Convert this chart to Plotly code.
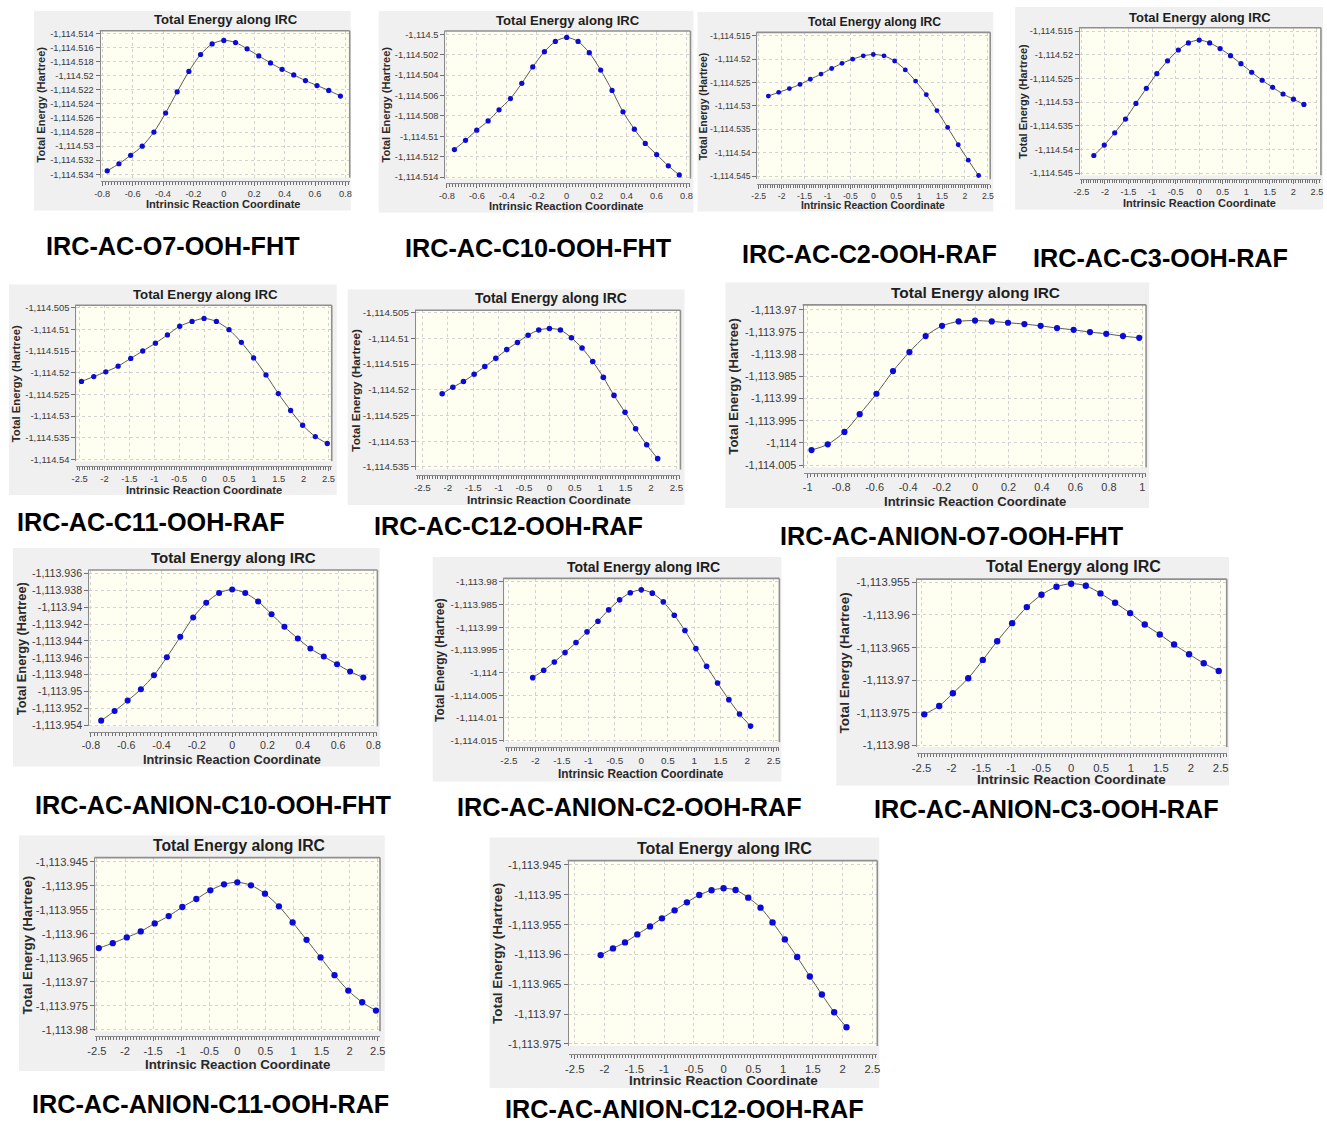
import plotly.graph_objects as go

W, H = 1327, 1123
# the photographed page ends up shifted and scaled slightly; compensate for it
VIEW_OFFSET_X = 7.0
VIEW_OFFSET_Y = 4.0
VIEW_SCALE = 0.991
FONT = "Liberation Sans, Arial, Helvetica, sans-serif"

# ---------------- captions / tick labels ----------------
CAPTIONS = [
    "IRC-AC-O7-OOH-FHT", "IRC-AC-C10-OOH-FHT", "IRC-AC-C2-OOH-RAF", "IRC-AC-C3-OOH-RAF",
    "IRC-AC-C11-OOH-RAF", "IRC-AC-C12-OOH-RAF", "IRC-AC-ANION-O7-OOH-FHT",
    "IRC-AC-ANION-C10-OOH-FHT", "IRC-AC-ANION-C2-OOH-RAF", "IRC-AC-ANION-C3-OOH-RAF",
    "IRC-AC-ANION-C11-OOH-RAF", "IRC-AC-ANION-C12-OOH-RAF",
]
PANEL_TITLE = "Total Energy along IRC"
X_TITLE = "Intrinsic Reaction Coordinate"
Y_TITLE = "Total Energy (Hartree)"

X_TICKS_SMALL = [-0.8, -0.6, -0.4, -0.2, 0, 0.2, 0.4, 0.6, 0.8]
X_TICKS_ONE = [-1, -0.8, -0.6, -0.4, -0.2, 0, 0.2, 0.4, 0.6, 0.8, 1]
X_TICKS_WIDE = [-2.5, -2, -1.5, -1, -0.5, 0, 0.5, 1, 1.5, 2, 2.5]

Y_TICKS_1 = [-1114.514, -1114.516, -1114.518, -1114.52, -1114.522, -1114.524, -1114.526, -1114.528, -1114.53, -1114.532, -1114.534]
Y_TICKS_2 = [-1114.5, -1114.502, -1114.504, -1114.506, -1114.508, -1114.51, -1114.512, -1114.514]
Y_TICKS_3 = [-1114.515, -1114.52, -1114.525, -1114.53, -1114.535, -1114.54, -1114.545]
Y_TICKS_4 = [-1114.515, -1114.52, -1114.525, -1114.53, -1114.535, -1114.54, -1114.545]
Y_TICKS_5 = [-1114.505, -1114.51, -1114.515, -1114.52, -1114.525, -1114.53, -1114.535, -1114.54]
Y_TICKS_6 = [-1114.505, -1114.51, -1114.515, -1114.52, -1114.525, -1114.53, -1114.535]
Y_TICKS_7 = [-1113.97, -1113.975, -1113.98, -1113.985, -1113.99, -1113.995, -1114.0, -1114.005]
Y_TICKS_8 = [-1113.936, -1113.938, -1113.94, -1113.942, -1113.944, -1113.946, -1113.948, -1113.95, -1113.952, -1113.954]
Y_TICKS_9 = [-1113.98, -1113.985, -1113.99, -1113.995, -1114.0, -1114.005, -1114.01, -1114.015]
Y_TICKS_10 = [-1113.955, -1113.96, -1113.965, -1113.97, -1113.975, -1113.98]
Y_TICKS_11 = [-1113.945, -1113.95, -1113.955, -1113.96, -1113.965, -1113.97, -1113.975, -1113.98]
Y_TICKS_12 = [-1113.945, -1113.95, -1113.955, -1113.96, -1113.965, -1113.97, -1113.975]

# ---------------- data (IRC coordinate, total energy in Hartree) ----------------
IRC_1 = [-0.767, -0.690, -0.613, -0.537, -0.460, -0.383, -0.307, -0.230, -0.153, -0.077, 0, 0.077, 0.153, 0.230, 0.307, 0.383, 0.460, 0.537, 0.613, 0.690, 0.767]
E_1 = [-1114.5335, -1114.5325, -1114.5313, -1114.5300, -1114.5280, -1114.5253, -1114.5223, -1114.5194, -1114.5170, -1114.5155, -1114.5150, -1114.5153, -1114.5162, -1114.5172, -1114.5182, -1114.5191, -1114.5199, -1114.5207, -1114.5214, -1114.5221, -1114.5229]

IRC_2 = [-0.750, -0.676, -0.601, -0.525, -0.452, -0.376, -0.300, -0.227, -0.149, -0.076, 0, 0.076, 0.151, 0.227, 0.303, 0.376, 0.452, 0.525, 0.601, 0.679, 0.752]
E_2 = [-1114.5113, -1114.5104, -1114.5094, -1114.5085, -1114.5074, -1114.5063, -1114.5048, -1114.5032, -1114.5017, -1114.5007, -1114.5003, -1114.5007, -1114.5018, -1114.5035, -1114.5055, -1114.5076, -1114.5093, -1114.5107, -1114.5118, -1114.5129, -1114.5138]

IRC_3 = [-2.289, -2.064, -1.831, -1.599, -1.374, -1.141, -0.908, -0.683, -0.451, -0.218, 0, 0.233, 0.465, 0.698, 0.923, 1.156, 1.388, 1.621, 1.853, 2.071, 2.297]
E_3 = [-1114.5279, -1114.5271, -1114.5263, -1114.5254, -1114.5243, -1114.5232, -1114.5220, -1114.5209, -1114.5200, -1114.5193, -1114.5190, -1114.5193, -1114.5204, -1114.5223, -1114.5247, -1114.5276, -1114.5310, -1114.5346, -1114.5383, -1114.5416, -1114.5449]

IRC_4 = [-2.237, -2.015, -1.794, -1.565, -1.343, -1.122, -0.900, -0.672, -0.443, -0.229, 0, 0.222, 0.443, 0.665, 0.886, 1.115, 1.337, 1.558, 1.780, 2.001, 2.223]
E_4 = [-1114.5413, -1114.5391, -1114.5365, -1114.5336, -1114.5303, -1114.5271, -1114.5240, -1114.5213, -1114.5190, -1114.5175, -1114.5169, -1114.5175, -1114.5187, -1114.5202, -1114.5219, -1114.5237, -1114.5254, -1114.5269, -1114.5283, -1114.5294, -1114.5305]

IRC_5 = [-2.463, -2.216, -1.975, -1.727, -1.473, -1.232, -0.977, -0.736, -0.489, -0.241, 0, 0.248, 0.502, 0.750, 0.997, 1.245, 1.493, 1.740, 1.981, 2.236, 2.477]
E_5 = [-1114.5220, -1114.5209, -1114.5198, -1114.5185, -1114.5167, -1114.5150, -1114.5132, -1114.5113, -1114.5093, -1114.5082, -1114.5075, -1114.5082, -1114.5101, -1114.5130, -1114.5166, -1114.5205, -1114.5248, -1114.5287, -1114.5321, -1114.5347, -1114.5363]

IRC_6 = [-2.110, -1.900, -1.691, -1.481, -1.271, -1.055, -0.839, -0.629, -0.419, -0.210, 0, 0.216, 0.433, 0.642, 0.852, 1.062, 1.271, 1.488, 1.697, 1.914, 2.130]
E_6 = [-1114.5208, -1114.5195, -1114.5184, -1114.5170, -1114.5155, -1114.5139, -1114.5122, -1114.5108, -1114.5094, -1114.5084, -1114.5081, -1114.5084, -1114.5099, -1114.5119, -1114.5145, -1114.5176, -1114.5211, -1114.5244, -1114.5276, -1114.5307, -1114.5334]

IRC_7 = [-0.977, -0.880, -0.780, -0.689, -0.589, -0.490, -0.392, -0.295, -0.197, -0.098, 0, 0.100, 0.197, 0.295, 0.392, 0.490, 0.589, 0.687, 0.784, 0.884, 0.981]
E_7 = [-1114.0016, -1114.0003, -1113.9975, -1113.9935, -1113.9889, -1113.9838, -1113.9795, -1113.9759, -1113.9736, -1113.9726, -1113.9724, -1113.9726, -1113.9729, -1113.9732, -1113.9736, -1113.9741, -1113.9745, -1113.9750, -1113.9754, -1113.9759, -1113.9763]

IRC_8 = [-0.742, -0.666, -0.592, -0.517, -0.443, -0.370, -0.294, -0.221, -0.147, -0.074, 0, 0.074, 0.147, 0.223, 0.296, 0.372, 0.443, 0.519, 0.594, 0.668, 0.743]
E_8 = [-1113.95344, -1113.95230, -1113.95107, -1113.94973, -1113.94806, -1113.94593, -1113.94352, -1113.94122, -1113.93948, -1113.93833, -1113.93790, -1113.93833, -1113.93932, -1113.94083, -1113.94233, -1113.94371, -1113.94490, -1113.94585, -1113.94676, -1113.94763, -1113.94834]

IRC_9 = [-2.050, -1.843, -1.642, -1.440, -1.233, -1.025, -0.818, -0.616, -0.409, -0.208, 0, 0.208, 0.415, 0.623, 0.824, 1.031, 1.233, 1.440, 1.654, 1.855, 2.063]
E_9 = [-1114.00115, -1113.99953, -1113.99769, -1113.99562, -1113.99341, -1113.99105, -1113.98870, -1113.98619, -1113.98398, -1113.98243, -1113.98177, -1113.98251, -1113.98442, -1113.98737, -1113.99076, -1113.99474, -1113.99864, -1114.00233, -1114.00601, -1114.00918, -1114.01184]

IRC_10 = [-2.455, -2.205, -1.977, -1.720, -1.476, -1.236, -0.986, -0.741, -0.496, -0.245, 0, 0.245, 0.490, 0.735, 0.986, 1.230, 1.481, 1.720, 1.971, 2.216, 2.467]
E_10 = [-1113.97524, -1113.97395, -1113.97201, -1113.96970, -1113.96689, -1113.96402, -1113.96125, -1113.95879, -1113.95690, -1113.95567, -1113.95520, -1113.95551, -1113.95669, -1113.95813, -1113.95971, -1113.96145, -1113.96299, -1113.96453, -1113.96601, -1113.96740, -1113.96858]

IRC_11 = [-2.467, -2.218, -1.969, -1.720, -1.471, -1.222, -0.979, -0.730, -0.480, -0.237, 0, 0.243, 0.492, 0.741, 0.985, 1.233, 1.482, 1.731, 1.976, 2.224, 2.469]
E_11 = [-1113.96299, -1113.96195, -1113.96076, -1113.95950, -1113.95783, -1113.95630, -1113.95441, -1113.95274, -1113.95093, -1113.94967, -1113.94925, -1113.94988, -1113.95162, -1113.95427, -1113.95762, -1113.96125, -1113.96494, -1113.96864, -1113.97185, -1113.97429, -1113.97603]

IRC_12 = [-2.066, -1.859, -1.657, -1.450, -1.237, -1.036, -0.823, -0.616, -0.409, -0.202, 0, 0.202, 0.414, 0.622, 0.823, 1.030, 1.237, 1.450, 1.652, 1.859, 2.066]
E_12 = [-1113.96011, -1113.95899, -1113.95798, -1113.95664, -1113.95530, -1113.95395, -1113.95261, -1113.95127, -1113.95004, -1113.94925, -1113.94892, -1113.94920, -1113.95048, -1113.95216, -1113.95463, -1113.95748, -1113.96044, -1113.96369, -1113.96671, -1113.96968, -1113.97220]

SERIES = [
    (IRC_1, E_1, X_TICKS_SMALL, Y_TICKS_1), (IRC_2, E_2, X_TICKS_SMALL, Y_TICKS_2),
    (IRC_3, E_3, X_TICKS_WIDE, Y_TICKS_3), (IRC_4, E_4, X_TICKS_WIDE, Y_TICKS_4),
    (IRC_5, E_5, X_TICKS_WIDE, Y_TICKS_5), (IRC_6, E_6, X_TICKS_WIDE, Y_TICKS_6),
    (IRC_7, E_7, X_TICKS_ONE, Y_TICKS_7), (IRC_8, E_8, X_TICKS_SMALL, Y_TICKS_8),
    (IRC_9, E_9, X_TICKS_WIDE, Y_TICKS_9), (IRC_10, E_10, X_TICKS_WIDE, Y_TICKS_10),
    (IRC_11, E_11, X_TICKS_WIDE, Y_TICKS_11), (IRC_12, E_12, X_TICKS_WIDE, Y_TICKS_12),
]

# ---------------- layout geometry (target screen pixels) ----------------
GEOM = [
    dict(frame=(33, 12, 350, 211), yax=98.7, L=100, R=349, T=31.7, B=178.3, xax=182,
         xcal=(-0.8, 101.3, 0.8, 344.7), ycal=(-1114.514, 34.3, -1114.534, 175),
         title=(224.7, 20.7), xt=204.3, yt=40.3, cap=(172, 247), s=1.0),
    dict(frame=(378, 12, 693, 213), yax=443.7, L=445, R=690, T=32, B=179.3, xax=184,
         xcal=(-0.8, 446.3, 0.8, 686), ycal=(-1114.5, 35.3, -1114.514, 177.7),
         title=(567.7, 21.7), xt=206.7, yt=385, cap=(538, 249), s=1.0),
    dict(frame=(697, 13, 993, 212), yax=756, L=757, R=990, T=33.3, B=180, xax=184.3,
         xcal=(-2.5, 758.3, 2.5, 987.7), ycal=(-1114.515, 36.7, -1114.545, 176.7),
         title=(874, 23.3), xt=206, yt=703, cap=(869, 255), s=0.93),
    dict(frame=(1015, 8, 1323, 210), yax=1078.7, L=1080, R=1321, T=28.7, B=176, xax=180,
         xcal=(-2.5, 1081.3, 2.5, 1317), ycal=(-1114.515, 32, -1114.545, 173.7),
         title=(1200, 18.3), xt=203.7, yt=1022, cap=(1160, 259), s=0.99),
    dict(frame=(8, 285, 336, 495), yax=74.3, L=75.5, R=331, T=305.7, B=461.3, xax=465.7,
         xcal=(-2.5, 78.7, 2.5, 327.7), ycal=(-1114.505, 308, -1114.54, 459.7),
         title=(205, 294.7), xt=489.7, yt=15, cap=(150, 522), s=1.01),
    dict(frame=(347, 290, 684, 505), yax=414.3, L=415.5, R=680, T=310.7, B=469.7, xax=474.7,
         xcal=(-2.5, 421.7, 2.5, 676), ycal=(-1114.505, 313, -1114.535, 467),
         title=(550, 298.7), xt=499.7, yt=355, cap=(508, 526), s=1.06),
    dict(frame=(725, 283, 1149, 508), yax=802.3, L=804, R=1146, T=305.3, B=467.7, xax=472.7,
         xcal=(-1, 807.3, 1, 1142.3), ycal=(-1113.97, 310.3, -1114.005, 465.3),
         title=(975.7, 293.3), xt=501.7, yt=733, cap=(952, 536), s=1.18),
    dict(frame=(12, 548, 379, 766), yax=87.3, L=88.5, R=376.7, T=570, B=726, xax=731.3,
         xcal=(-0.8, 90, 0.8, 372.7), ycal=(-1113.936, 573.3, -1113.954, 725),
         title=(232.7, 557.7), xt=758.7, yt=20, cap=(212, 804), s=1.15),
    dict(frame=(432, 557, 781, 781), yax=502.7, L=504, R=779, T=578.3, B=741.7, xax=746.7,
         xcal=(-2.5, 508.3, 2.5, 773.3), ycal=(-1113.98, 581.7, -1114.015, 740),
         title=(642.7, 566.7), xt=773.3, yt=440, cap=(629, 806), s=1.07),
    dict(frame=(836, 557, 1229, 785), yax=915.7, L=917, R=1226.7, T=579, B=746.7, xax=752.7,
         xcal=(-2.5, 921.3, 2.5, 1220.7), ycal=(-1113.955, 582.3, -1113.98, 745),
         title=(1073.3, 566.7), xt=779.5, yt=844, cap=(1046, 808), s=1.22),
    dict(frame=(18, 835, 384, 1070), yax=93.3, L=94.5, R=379.3, T=857, B=1030.3, xax=1035.3,
         xcal=(-2.5, 96, 2.5, 377), ycal=(-1113.945, 861.3, -1113.98, 1028.7),
         title=(237.7, 844.7), xt=1063, yt=26, cap=(210, 1103), s=1.2),
    dict(frame=(489, 837, 879, 1087), yax=567, L=568.5, R=877, T=860, B=1045, xax=1053.3,
         xcal=(-2.5, 574.3, 2.5, 872), ycal=(-1113.945, 864.3, -1113.975, 1043),
         title=(723.7, 847.7), xt=1079.3, yt=497, cap=(684, 1108), s=1.22),
]

K = 1.0 / VIEW_SCALE   # size compensation


def fx(px):
    return ((px - VIEW_OFFSET_X) / VIEW_SCALE) / W


def fy(py):
    return 1 - ((py - VIEW_OFFSET_Y) / VIEW_SCALE) / H


def ytxt(v):
    s = f"{v:,.3f}"
    if "." in s:
        s = s.rstrip("0").rstrip(".")
    return s


def xtxt(v):
    return f"{v:g}"


fig = go.Figure()
shapes = []
annotations = []
layout_axes = {}

for i, (g, (xs, ys, xticks, yticks), cap) in enumerate(zip(GEOM, SERIES, CAPTIONS)):
    n = "" if i == 0 else str(i + 1)
    s = g["s"] * K
    a, pa, b, pb = g["xcal"]
    kx = (pb - pa) / (b - a)
    xrange = [a + (g["L"] - pa) / kx, a + (g["R"] - pa) / kx]
    a, pa, b, pb = g["ycal"]
    ky = (pb - pa) / (b - a)
    yrange = [a + (g["B"] - pa) / ky, a + (g["T"] - pa) / ky]

    fig.add_trace(go.Scatter(
        x=xs, y=ys, xaxis="x" + n, yaxis="y" + n, mode="lines+markers",
        line=dict(color="#5a5a5a", width=1, shape="spline", smoothing=0.8),
        marker=dict(color="#0b0bd8", size=5.2 * s),
        showlegend=False, hoverinfo="skip",
    ))

    tickfont = dict(family=FONT, size=9.2 * s, color="#3a3a3a")
    layout_axes["xaxis" + n] = dict(
        domain=[fx(g["L"]), fx(g["R"])], range=xrange, anchor="free", position=fy(g["xax"]),
        tickmode="array", tickvals=xticks, ticktext=[xtxt(v) for v in xticks],
        ticks="outside", ticklen=4, tickcolor="#707070", tickwidth=1,
        showline=True, linecolor="#8a8a8a", linewidth=1,
        showgrid=True, gridcolor="#d2d2d2", griddash="dot", gridwidth=1,
        zeroline=False, tickfont=tickfont, fixedrange=True,
        minor=dict(tickmode="linear", tick0=xticks[0], dtick=(xticks[1] - xticks[0]) / 10,
                   ticks="outside", ticklen=3, tickcolor="#707070", showgrid=False),
    )
    layout_axes["yaxis" + n] = dict(
        domain=[fy(g["B"]), fy(g["T"])], range=yrange, anchor="free", position=fx(g["yax"]),
        tickmode="array", tickvals=yticks, ticktext=[ytxt(v) for v in yticks],
        ticks="outside", ticklen=4, tickcolor="#707070", tickwidth=1,
        showline=True, linecolor="#8a8a8a", linewidth=1,
        showgrid=True, gridcolor="#d2d2d2", griddash="dot", gridwidth=1,
        zeroline=False, tickfont=tickfont, fixedrange=True,
    )

    x0, y0, x1, y1 = g["frame"]
    shapes.append(dict(type="rect", xref="paper", yref="paper", layer="below",
                       x0=fx(x0), x1=fx(x1), y0=fy(y1), y1=fy(y0),
                       fillcolor="#f0f0f0", line=dict(width=0)))
    shapes.append(dict(type="rect", xref="paper", yref="paper", layer="below",
                       x0=fx(g["L"]), x1=fx(g["R"]), y0=fy(g["B"]), y1=fy(g["T"]),
                       fillcolor="#fefef1", line=dict(width=0)))
    shapes.append(dict(type="line", xref="paper", yref="paper", layer="above",
                       x0=fx(g["yax"]), x1=fx(g["R"]), y0=fy(g["T"]), y1=fy(g["T"]),
                       line=dict(color="#8f8f8f", width=1.6)))
    shapes.append(dict(type="line", xref="paper", yref="paper", layer="above",
                       x0=fx(g["R"]), x1=fx(g["R"]), y0=fy(g["B"]), y1=fy(g["T"]),
                       line=dict(color="#8f8f8f", width=1.6)))

    annotations.append(dict(text="<b>%s</b>" % PANEL_TITLE, x=fx(g["title"][0]), y=fy(g["title"][1]),
                            xref="paper", yref="paper", xanchor="center", yanchor="middle",
                            showarrow=False, font=dict(family=FONT, size=13 * s, color="#1e1e1e")))
    xc = (g["xcal"][1] + g["xcal"][3]) / 2
    annotations.append(dict(text="<b>%s</b>" % X_TITLE, x=fx(xc), y=fy(g["xt"]),
                            xref="paper", yref="paper", xanchor="center", yanchor="middle",
                            showarrow=False, font=dict(family=FONT, size=11 * s, color="#2a2a2a")))
    annotations.append(dict(text="<b>%s</b>" % Y_TITLE, x=fx(g["yt"]), y=fy((g["T"] + g["B"]) / 2),
                            xref="paper", yref="paper", xanchor="center", yanchor="middle",
                            textangle=-90, showarrow=False,
                            font=dict(family=FONT, size=11 * s, color="#2a2a2a")))
    annotations.append(dict(text="<b>%s</b>" % cap, x=fx(g["cap"][0]), y=fy(g["cap"][1]),
                            xref="paper", yref="paper", xanchor="center", yanchor="middle",
                            showarrow=False, font=dict(family=FONT, size=25 * K, color="#000000")))

fig.update_layout(
    width=W, height=H, margin=dict(l=0, r=0, t=0, b=0, pad=0),
    paper_bgcolor="white", plot_bgcolor="rgba(0,0,0,0)",
    shapes=shapes, annotations=annotations, showlegend=False,
    font=dict(family=FONT),
    **layout_axes,
)

fig.write_html(
    "out.html",
    config={"displayModeBar": False, "staticPlot": True},
    post_script=(
        "document.documentElement.style.margin='0';document.body.style.margin='0';"
        "document.body.style.padding='0';document.body.style.overflow='hidden';"
        "document.documentElement.style.overflow='hidden';"
        "var gd=document.getElementById('{plot_id}');"
        "gd.style.position='fixed';gd.style.left='0px';gd.style.top='0px';"
    ),
)
